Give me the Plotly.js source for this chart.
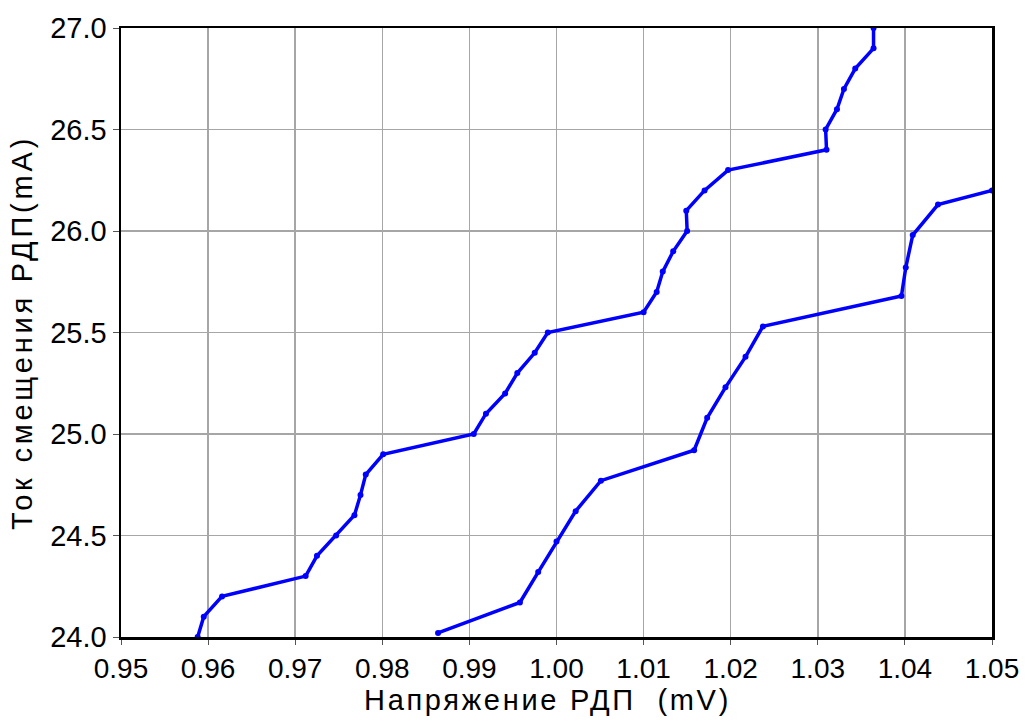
<!DOCTYPE html>
<html>
<head>
<meta charset="utf-8">
<script src="https://cdn.plot.ly/plotly-3.0.1.min.js"></script>
<style>
html,body{margin:0;padding:0;background:#fff;}
#chart{width:1028px;height:724px;}
#chart .xtitle{letter-spacing:2.7px; transform: translate(-9px,0px);}
#chart .ytitle{letter-spacing:3.8px;}
</style>
</head>
<body>
<div id="chart"></div>
<script>
// Series 1 (left curve)
const voltage1 = [0.9588, 0.9595, 0.9616, 0.9712, 0.9725, 0.9747, 0.9768, 0.9775, 0.9781, 0.9801, 0.9905, 0.9919, 0.9941, 0.9955, 0.9975, 0.9990, 1.0100, 1.0115, 1.0122, 1.0134, 1.0150, 1.0149, 1.0170, 1.0197, 1.0310, 1.0309, 1.0322, 1.0330, 1.0343, 1.0364, 1.0364];
const current1 = [24.00, 24.10, 24.20, 24.30, 24.40, 24.50, 24.60, 24.70, 24.80, 24.90, 25.00, 25.10, 25.20, 25.30, 25.40, 25.50, 25.60, 25.70, 25.80, 25.90, 26.00, 26.10, 26.20, 26.30, 26.40, 26.50, 26.60, 26.70, 26.80, 26.90, 27.00];
// Series 2 (right curve)
const voltage2 = [0.9864, 0.9958, 0.9979, 1.0000, 1.0022, 1.0051, 1.0158, 1.0173, 1.0194, 1.0217, 1.0237, 1.0396, 1.0401, 1.0409, 1.0438, 1.0500];
const current2 = [24.02, 24.17, 24.32, 24.47, 24.62, 24.77, 24.92, 25.08, 25.23, 25.38, 25.53, 25.68, 25.82, 25.98, 26.13, 26.20];

const xTicks = [0.95, 0.96, 0.97, 0.98, 0.99, 1.00, 1.01, 1.02, 1.03, 1.04, 1.05];
const yTicks = [24.0, 24.5, 25.0, 25.5, 26.0, 26.5, 27.0];

const lineStyle = {color: '#0000ff', width: 3.5};
const markerStyle = {color: '#0000ff', size: 6, symbol: 'circle'};

const traces = [
  {x: voltage1, y: current1, type: 'scatter', mode: 'lines+markers', line: lineStyle, marker: markerStyle, cliponaxis: true, hoverinfo: 'x+y'},
  {x: voltage2, y: current2, type: 'scatter', mode: 'lines+markers', line: lineStyle, marker: markerStyle, cliponaxis: true, hoverinfo: 'x+y'}
];

const font = 'Liberation Sans, Arial, sans-serif';
const layout = {
  width: 1028, height: 724,
  margin: {l: 121, r: 36, t: 28, b: 87},
  paper_bgcolor: '#ffffff', plot_bgcolor: '#ffffff',
  showlegend: false,
  xaxis: {
    range: [0.95, 1.05],
    tickvals: xTicks,
    ticktext: xTicks.map(v => v.toFixed(2)),
    showgrid: true, gridcolor: '#a6a6a6', gridwidth: 1.5,
    zeroline: false,
    showline: true, linecolor: '#000000', linewidth: 2.5, mirror: true,
    ticks: 'outside', ticklen: 5, tickcolor: '#555555', tickwidth: 1,
    tickfont: {family: font, size: 28, color: '#000000'},
    title: {text: 'Напряжение РДП  (mV)', font: {family: font, size: 29, color: '#000000'}, standoff: 0}
  },
  yaxis: {
    range: [24.0, 27.0],
    tickvals: yTicks,
    ticktext: yTicks.map(v => v.toFixed(1)),
    showgrid: true, gridcolor: '#a6a6a6', gridwidth: 1.5,
    zeroline: false,
    showline: true, linecolor: '#000000', linewidth: 2.5, mirror: true,
    ticks: 'outside', ticklen: 6, tickcolor: '#555555', tickwidth: 1,
    tickfont: {family: font, size: 29, color: '#000000'},
    title: {text: 'Ток смещения РДП(mA)', font: {family: font, size: 29, color: '#000000'}, standoff: 9}
  }
};

Plotly.newPlot('chart', traces, layout, {staticPlot: true, displayModeBar: false});
</script>
</body>
</html>
